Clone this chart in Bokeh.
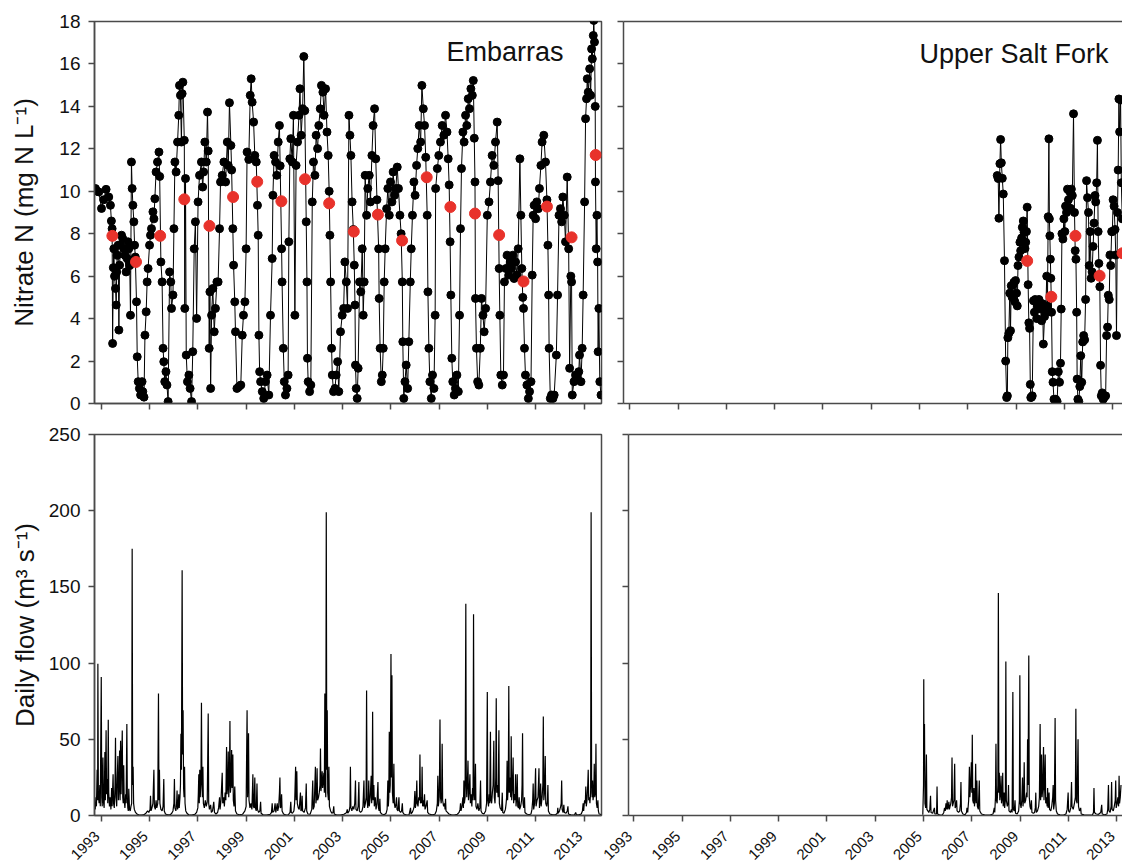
import math
from bokeh.plotting import figure
from bokeh.layouts import column, row
from bokeh.models import Range1d, LinearAxis, FixedTicker, Label
from bokeh.core.properties import value
from bokeh.embed import file_html
from bokeh.resources import INLINE

FONT = "Liberation Sans"
AX = "#4a4a4a"
TXT = "#111111"
RED = "#e8322b"

# ---------------- data ----------------
year_ticks = [1993, 1995, 1997, 1999, 2001, 2003, 2005, 2007, 2009, 2011, 2013]
year_labels = ["1993", "1995", "1997", "1999", "2001", "2003", "2005", "2007", "2009", "2011", "2013"]
no3_ticks = [0, 2, 4, 6, 8, 10, 12, 14, 16, 18]
flow_ticks = [0, 50, 100, 150, 200, 250]

# Embarras nitrate samples (decimal year, mg N/L)
emb_no3 = [
    (1992.76, 10.13), (1992.83, 10.0), (1992.90, 9.97), (1993.01, 9.19), (1993.10, 9.6), (1993.20, 10.09),
    (1993.31, 9.73), (1993.38, 9.34), (1993.42, 8.6), (1993.45, 8.24), (1993.47, 2.83), (1993.50, 6.4),
    (1993.52, 7.29), (1993.55, 6.0), (1993.59, 5.42), (1993.62, 4.64), (1993.64, 6.2), (1993.66, 6.99),
    (1993.70, 7.46), (1993.73, 3.46), (1993.76, 6.52), (1993.80, 7.46), (1993.84, 7.93), (1993.89, 7.77),
    (1993.94, 7.29), (1993.98, 6.99), (1994.03, 6.20), (1994.07, 6.83), (1994.11, 7.62), (1994.14, 7.29),
    (1994.18, 6.5), (1994.21, 4.16), (1994.25, 11.38), (1994.28, 10.13), (1994.31, 9.34), (1994.35, 8.56),
    (1994.38, 7.46), (1994.41, 6.9), (1994.46, 4.79), (1994.49, 2.20), (1994.53, 1.03), (1994.58, 0.71),
    (1994.63, 0.40), (1994.69, 1.03), (1994.72, 0.56), (1994.77, 0.3), (1994.81, 3.22), (1994.86, 4.32),
    (1994.90, 5.73), (1994.94, 6.36), (1995.00, 7.46), (1995.04, 7.93), (1995.08, 8.24), (1995.14, 9.03),
    (1995.18, 8.7), (1995.22, 9.65), (1995.27, 10.91), (1995.33, 11.38), (1995.39, 11.85), (1995.42, 10.7),
    (1995.47, 6.67), (1995.52, 5.73), (1995.56, 2.60), (1995.59, 1.97), (1995.63, 1.03), (1995.68, 1.50),
    (1995.72, 0.87), (1995.77, 0.09), (1995.83, 6.20), (1995.88, 5.73), (1995.91, 4.48), (1995.97, 5.11),
    (1996.01, 8.24), (1996.05, 11.38), (1996.10, 10.91), (1996.16, 12.32), (1996.21, 13.58), (1996.24, 14.99),
    (1996.28, 14.52), (1996.32, 12.32), (1996.35, 14.6), (1996.38, 15.14), (1996.44, 12.4), (1996.46, 4.48),
    (1996.49, 10.60), (1996.52, 2.28), (1996.57, 1.03), (1996.63, 1.34), (1996.68, 0.71), (1996.74, 0.09),
    (1996.79, 2.44), (1996.85, 7.29), (1996.90, 8.56), (1996.95, 4.01), (1997.01, 9.50), (1997.07, 10.75),
    (1997.15, 11.38), (1997.20, 10.2), (1997.24, 10.91), (1997.29, 12.32), (1997.35, 11.38), (1997.40, 13.73),
    (1997.43, 11.9), (1997.47, 2.60), (1997.50, 5.26), (1997.53, 0.71), (1997.57, 4.16), (1997.62, 5.42),
    (1997.68, 3.38), (1997.73, 4.48), (1997.79, 5.73), (1997.84, 5.73), (1997.90, 8.24), (1997.94, 10.44),
    (1998.01, 10.75), (1998.08, 11.38), (1998.15, 10.44), (1998.22, 12.32), (1998.26, 11.22), (1998.31, 14.17),
    (1998.37, 12.16), (1998.40, 11.0), (1998.45, 8.24), (1998.48, 6.52), (1998.53, 4.79), (1998.56, 3.38),
    (1998.62, 0.71), (1998.70, 0.79), (1998.78, 0.87), (1998.84, 3.22), (1998.89, 4.16), (1998.95, 4.79),
    (1999.00, 7.29), (1999.04, 11.85), (1999.11, 11.5), (1999.17, 14.52), (1999.21, 15.30), (1999.25, 14.20),
    (1999.31, 13.26), (1999.36, 11.69), (1999.42, 11.38), (1999.47, 9.34), (1999.50, 7.93), (1999.53, 3.22),
    (1999.56, 1.50), (1999.60, 1.03), (1999.67, 0.56), (1999.73, 0.24), (1999.80, 1.03), (1999.87, 1.34),
    (1999.94, 0.40),
    (2000.01, 4.16), (2000.08, 6.83), (2000.11, 9.81), (2000.16, 11.69), (2000.22, 11.38), (2000.27, 10.75),
    (2000.33, 12.32), (2000.38, 13.10), (2000.41, 11.2), (2000.47, 7.29), (2000.49, 5.73), (2000.54, 2.60),
    (2000.58, 1.03), (2000.63, 0.40), (2000.69, 0.71), (2000.74, 1.34), (2000.77, 7.62), (2000.81, 11.53),
    (2000.85, 12.48), (2000.91, 11.38), (2000.96, 13.58), (2001.02, 4.16), (2001.07, 11.22), (2001.13, 12.32),
    (2001.19, 13.58), (2001.23, 14.83), (2001.28, 12.64), (2001.34, 13.89), (2001.39, 16.35), (2001.43, 13.8),
    (2001.49, 8.56), (2001.52, 5.73), (2001.54, 2.13), (2001.57, 1.03), (2001.63, 0.56), (2001.68, 0.87),
    (2001.74, 9.50), (2001.79, 11.38), (2001.85, 10.75), (2001.90, 12.64), (2001.96, 12.01), (2002.01, 13.10),
    (2002.07, 13.89), (2002.12, 14.99), (2002.18, 14.67), (2002.23, 13.58), (2002.29, 14.83), (2002.35, 12.79),
    (2002.40, 11.69), (2002.44, 10.0), (2002.47, 7.93), (2002.50, 5.73), (2002.54, 2.60), (2002.57, 1.34),
    (2002.62, 0.56), (2002.68, 0.71), (2002.73, 1.34), (2002.79, 1.97), (2002.84, 0.56), (2002.91, 3.38),
    (2002.98, 4.16), (2003.04, 4.48), (2003.09, 6.67), (2003.15, 5.73), (2003.20, 4.48), (2003.26, 13.58),
    (2003.30, 12.64), (2003.34, 11.69), (2003.39, 9.50), (2003.44, 8.2), (2003.48, 6.52), (2003.51, 4.64),
    (2003.53, 1.81), (2003.56, 0.71), (2003.60, 0.24), (2003.64, 1.66), (2003.70, 5.73), (2003.75, 5.26),
    (2003.81, 7.29), (2003.85, 4.16), (2003.89, 5.73), (2003.93, 10.75), (2003.99, 8.87), (2004.04, 10.13),
    (2004.10, 10.75), (2004.15, 9.50), (2004.21, 11.69), (2004.26, 13.10), (2004.32, 13.89), (2004.37, 11.53),
    (2004.42, 9.6), (2004.49, 7.29), (2004.51, 4.95), (2004.55, 2.60), (2004.60, 1.03), (2004.64, 1.34),
    (2004.68, 2.60), (2004.72, 5.73), (2004.76, 7.29), (2004.82, 9.18), (2004.87, 10.13), (2004.93, 8.87),
    (2004.98, 10.44), (2005.04, 9.50), (2005.09, 10.91), (2005.15, 9.81), (2005.20, 10.13), (2005.26, 11.14),
    (2005.31, 10.13), (2005.37, 8.87), (2005.42, 8.0), (2005.47, 5.73), (2005.49, 2.91), (2005.53, 0.24),
    (2005.58, 1.03), (2005.63, 1.81), (2005.69, 0.71), (2005.74, 2.91), (2005.80, 5.73), (2005.84, 7.29),
    (2005.89, 8.87), (2005.95, 10.44), (2006.00, 9.81), (2006.06, 11.22), (2006.11, 12.01), (2006.17, 13.10),
    (2006.23, 12.32), (2006.28, 14.99), (2006.34, 13.89), (2006.39, 13.10), (2006.44, 11.6), (2006.50, 8.87),
    (2006.53, 5.26), (2006.57, 2.60), (2006.61, 1.03), (2006.67, 0.24), (2006.72, 1.34), (2006.78, 0.71),
    (2006.83, 4.16),
    (2006.85, 10.13), (2006.92, 11.07), (2006.98, 11.69), (2007.05, 12.32), (2007.12, 13.10), (2007.19, 12.64),
    (2007.26, 13.58), (2007.32, 12.79), (2007.37, 11.53), (2007.41, 10.3), (2007.45, 7.62), (2007.48, 5.11),
    (2007.52, 2.13), (2007.56, 1.03), (2007.62, 0.40), (2007.67, 0.71), (2007.73, 1.34), (2007.79, 0.56),
    (2007.84, 4.16), (2007.88, 8.24), (2007.92, 11.07), (2007.98, 12.79), (2008.03, 12.32), (2008.09, 13.58),
    (2008.14, 13.10), (2008.20, 14.36), (2008.25, 13.89), (2008.31, 14.83), (2008.37, 14.52), (2008.41, 15.22),
    (2008.45, 12.5), (2008.48, 10.44), (2008.50, 4.95), (2008.54, 2.60), (2008.59, 1.03), (2008.64, 0.87),
    (2008.70, 2.60), (2008.75, 4.95), (2008.81, 4.16), (2008.86, 3.38), (2008.92, 4.48), (2008.99, 8.87),
    (2009.06, 9.50), (2009.12, 10.44), (2009.19, 11.69), (2009.26, 11.22), (2009.33, 12.32), (2009.40, 13.26),
    (2009.44, 10.5), (2009.48, 6.36), (2009.51, 4.16), (2009.55, 1.34), (2009.61, 0.87), (2009.66, 1.34),
    (2009.70, 5.73), (2009.76, 6.36), (2009.81, 6.99), (2009.88, 6.05), (2009.94, 6.67), (2009.99, 6.36),
    (2010.05, 6.99), (2010.10, 5.89), (2010.16, 6.67), (2010.22, 6.05), (2010.27, 7.29), (2010.34, 11.53),
    (2010.38, 8.87), (2010.42, 6.36), (2010.46, 5.0), (2010.49, 4.48), (2010.53, 2.60), (2010.57, 1.34),
    (2010.63, 0.87), (2010.69, 0.24), (2010.74, 0.56), (2010.80, 1.03), (2010.85, 6.05), (2010.89, 8.87),
    (2010.93, 9.34), (2010.99, 8.71), (2011.04, 9.50), (2011.10, 9.18), (2011.15, 10.13), (2011.21, 11.22),
    (2011.26, 12.32), (2011.33, 12.64), (2011.40, 11.38), (2011.46, 9.6), (2011.50, 7.46), (2011.53, 5.11),
    (2011.55, 2.60), (2011.60, 0.24), (2011.65, 0.40), (2011.71, 0.24), (2011.76, 0.40), (2011.85, 2.28),
    (2011.90, 5.11), (2011.96, 8.87), (2012.02, 9.18), (2012.07, 8.56), (2012.12, 9.73), (2012.18, 8.87),
    (2012.23, 7.62), (2012.30, 10.67), (2012.36, 7.29), (2012.40, 1.66), (2012.45, 6.0), (2012.48, 5.73),
    (2012.51, 0.40), (2012.58, 1.03), (2012.65, 1.34), (2012.71, 1.18), (2012.78, 1.50), (2012.81, 2.28),
    (2012.87, 1.03), (2012.92, 2.60), (2012.96, 5.11), (2013.02, 9.50), (2013.06, 13.42), (2013.10, 14.36),
    (2013.13, 15.30), (2013.17, 14.67), (2013.23, 15.77), (2013.27, 14.52), (2013.31, 16.71), (2013.34, 16.24),
    (2013.38, 17.34), (2013.40, 18.05), (2013.43, 17.03), (2013.46, 14.0), (2013.47, 10.44), (2013.50, 7.29),
    (2013.53, 8.87), (2013.56, 6.67), (2013.58, 2.44), (2013.61, 4.48), (2013.65, 1.03), (2013.70, 0.40),
]

# Embarras annual mean nitrate
emb_mean_year = [1993.46, 1994.44, 1995.44, 1996.44, 1997.48, 1998.46, 1999.46, 2000.46, 2001.44, 2002.44, 2003.46,
                 2004.46, 2005.46, 2006.48, 2007.46, 2008.48, 2009.48, 2010.49, 2011.46, 2012.48, 2013.48]
emb_mean_no3 = [7.9, 6.67, 7.9, 9.62, 8.37, 9.73, 10.45, 9.53, 10.57, 9.43, 8.1,
                8.9, 7.68, 10.66, 9.26, 8.95, 7.94, 5.75, 9.28, 7.83, 11.71]

# Upper Salt Fork nitrate samples
usf_no3 = [
    (2008.22, 10.74), (2008.26, 10.6), (2008.29, 8.73), (2008.33, 11.3), (2008.36, 12.44), (2008.39, 11.34),
    (2008.43, 10.61), (2008.47, 9.87), (2008.52, 6.73), (2008.57, 2.0), (2008.61, 0.28), (2008.64, 0.36),
    (2008.66, 3.1), (2008.70, 3.3), (2008.74, 5.2), (2008.77, 3.43), (2008.80, 5.55), (2008.84, 5.0),
    (2008.88, 5.6), (2008.91, 5.71), (2008.95, 4.8), (2008.98, 5.79), (2009.02, 5.2), (2009.05, 4.6),
    (2009.08, 6.5), (2009.12, 6.9), (2009.16, 7.6), (2009.19, 7.2), (2009.23, 7.8), (2009.26, 8.3),
    (2009.30, 8.6), (2009.33, 8.07), (2009.37, 7.3), (2009.40, 7.6), (2009.43, 8.1), (2009.46, 9.25),
    (2009.50, 5.6), (2009.53, 3.8), (2009.56, 3.54), (2009.59, 0.9), (2009.61, 0.28), (2009.64, 0.3),
    (2009.67, 0.36), (2009.72, 4.84), (2009.76, 4.3), (2009.79, 4.9), (2009.82, 4.84), (2009.86, 4.0),
    (2009.90, 4.6), (2009.95, 4.9), (2010.02, 4.45), (2010.06, 3.9), (2010.10, 4.7), (2010.13, 2.8),
    (2010.18, 4.1), (2010.23, 4.3), (2010.27, 6.0), (2010.30, 4.6), (2010.33, 8.8), (2010.36, 12.47),
    (2010.38, 8.7), (2010.40, 7.9), (2010.42, 6.8), (2010.44, 5.9), (2010.47, 4.3), (2010.50, 1.5),
    (2010.53, 1.0), (2010.57, 0.2), (2010.64, 0.2), (2010.70, 0.1), (2010.75, 1.5), (2010.80, 1.0),
    (2010.84, 1.9), (2010.87, 4.45), (2010.90, 8.0), (2010.94, 7.75), (2010.98, 8.7), (2011.02, 8.1),
    (2011.05, 9.3), (2011.09, 9.0), (2011.13, 10.1), (2011.17, 9.6), (2011.21, 10.0), (2011.25, 9.2),
    (2011.29, 10.1), (2011.33, 9.8), (2011.38, 13.65), (2011.42, 9.0), (2011.45, 7.2), (2011.48, 6.8),
    (2011.51, 4.3), (2011.53, 1.15), (2011.56, 0.2), (2011.60, 0.1), (2011.64, 0.8), (2011.68, 2.25),
    (2011.72, 1.0), (2011.76, 2.9), (2011.80, 3.2), (2011.84, 3.0), (2011.88, 4.9), (2011.92, 10.5),
    (2011.96, 9.7), (2012.00, 9.0), (2012.03, 6.5), (2012.07, 8.1), (2012.11, 5.9), (2012.15, 6.2),
    (2012.19, 7.4), (2012.23, 8.5), (2012.27, 9.8), (2012.30, 9.5), (2012.34, 10.4), (2012.37, 12.4),
    (2012.40, 8.1), (2012.43, 6.6), (2012.47, 5.5), (2012.50, 1.8), (2012.53, 0.36), (2012.57, 0.5),
    (2012.61, 0.2), (2012.66, 0.3), (2012.71, 0.36), (2012.75, 3.2), (2012.79, 3.6), (2012.82, 5.1),
    (2012.86, 4.9), (2012.89, 7.0), (2012.92, 6.5), (2012.96, 8.1), (2012.99, 8.1), (2013.02, 9.6),
    (2013.06, 9.3), (2013.10, 8.2), (2013.13, 7.0), (2013.16, 3.2), (2013.20, 9.0), (2013.23, 11.0),
    (2013.26, 14.35), (2013.29, 12.8), (2013.33, 14.3), (2013.36, 10.4), (2013.40, 8.7),
]
usf_mean_year = [2009.46, 2010.46, 2011.46, 2012.46, 2013.41]
usf_mean_no3 = [6.72, 5.03, 7.9, 6.02, 7.08]

# Embarras daily flow (decimal year, m3/s)
emb_flow = [
    (1992.75, 4), (1992.78, 12), (1992.80, 6), (1992.83, 30), (1992.85, 10), (1992.86, 99.6), (1992.88, 14),
    (1992.91, 8), (1992.94, 20), (1992.96, 6), (1993.00, 90.8), (1993.02, 12), (1993.04, 6), (1993.07, 38),
    (1993.09, 9), (1993.12, 5), (1993.15, 41.6), (1993.17, 10), (1993.20, 56), (1993.22, 14), (1993.25, 24),
    (1993.27, 8), (1993.29, 62.8), (1993.31, 15), (1993.34, 6), (1993.37, 12), (1993.40, 4), (1993.43, 18),
    (1993.45, 6), (1993.49, 27), (1993.51, 8), (1993.54, 5), (1993.57, 20), (1993.59, 51), (1993.61, 12),
    (1993.64, 6), (1993.66, 24), (1993.69, 39), (1993.71, 10), (1993.74, 20), (1993.76, 42.7), (1993.78, 10),
    (1993.80, 49), (1993.82, 14), (1993.84, 30), (1993.87, 55.8), (1993.89, 12), (1993.91, 8), (1993.93, 33),
    (1993.95, 10), (1993.98, 5), (1994.01, 14), (1994.03, 8), (1994.06, 60), (1994.08, 12), (1994.10, 5),
    (1994.12, 3), (1994.14, 17.5), (1994.17, 4), (1994.20, 3), (1994.23, 6), (1994.26, 8), (1994.28, 175),
    (1994.30, 20), (1994.32, 32), (1994.34, 8), (1994.37, 4), (1994.42, 2), (1994.48, 1), (1994.55, 0.5),
    (1994.65, 0.3), (1994.75, 0.4), (1994.85, 1.5), (1994.92, 3), (1994.97, 2), (1995.02, 4), (1995.04, 13),
    (1995.06, 3), (1995.10, 5), (1995.14, 8), (1995.18, 30), (1995.20, 6), (1995.24, 4), (1995.27, 10),
    (1995.30, 5), (1995.34, 8), (1995.37, 80), (1995.39, 10), (1995.41, 30), (1995.43, 8), (1995.47, 4),
    (1995.52, 3), (1995.56, 6), (1995.59, 24), (1995.61, 3), (1995.66, 1), (1995.75, 0.5), (1995.85, 0.4),
    (1995.92, 1.5), (1995.97, 3), (1996.01, 8), (1996.03, 24), (1996.05, 5), (1996.09, 3), (1996.12, 8),
    (1996.14, 16.4), (1996.16, 4), (1996.19, 6), (1996.21, 14), (1996.23, 5), (1996.26, 12), (1996.28, 20),
    (1996.30, 53.6), (1996.32, 30), (1996.35, 161), (1996.37, 40), (1996.39, 69), (1996.41, 18), (1996.43, 12),
    (1996.45, 32), (1996.47, 8), (1996.50, 3), (1996.55, 1.5), (1996.62, 0.5), (1996.75, 0.3), (1996.88, 0.8),
    (1996.95, 2), (1997.00, 5), (1997.02, 14), (1997.04, 27), (1997.06, 8), (1997.08, 30), (1997.10, 12),
    (1997.13, 25), (1997.15, 74), (1997.17, 20), (1997.19, 12), (1997.21, 32), (1997.23, 8), (1997.27, 5),
    (1997.31, 10), (1997.35, 6), (1997.39, 9), (1997.43, 67), (1997.45, 8), (1997.48, 4), (1997.53, 7),
    (1997.56, 2), (1997.61, 3), (1997.66, 9), (1997.69, 2), (1997.75, 1), (1997.82, 2), (1997.86, 5),
    (1997.90, 12), (1997.92, 4), (1997.96, 10), (1998.01, 28), (1998.03, 8), (1998.07, 12), (1998.10, 6),
    (1998.13, 15), (1998.16, 10), (1998.19, 45), (1998.21, 14), (1998.24, 20), (1998.26, 42), (1998.28, 12),
    (1998.31, 25), (1998.33, 62), (1998.35, 15), (1998.38, 22), (1998.40, 43), (1998.42, 18), (1998.45, 40),
    (1998.47, 10), (1998.50, 6), (1998.53, 19), (1998.56, 3), (1998.62, 1), (1998.72, 0.5), (1998.85, 0.8),
    (1998.95, 3), (1999.00, 6), (1999.04, 69), (1999.06, 12), (1999.08, 20), (1999.10, 54), (1999.12, 10),
    (1999.16, 5), (1999.20, 8), (1999.24, 4), (1999.28, 27), (1999.30, 6), (1999.33, 5), (1999.36, 25),
    (1999.38, 5), (1999.42, 3), (1999.45, 21), (1999.47, 4), (1999.52, 2), (1999.57, 3), (1999.60, 9),
    (1999.62, 1.5), (1999.70, 0.5), (1999.85, 0.3), (2000.00, 0.8), (2000.05, 2), (2000.08, 8), (2000.10, 2),
    (2000.16, 3), (2000.20, 8), (2000.23, 2), (2000.29, 8), (2000.31, 3), (2000.35, 6), (2000.38, 15),
    (2000.40, 25), (2000.42, 5), (2000.45, 6), (2000.47, 14), (2000.49, 3), (2000.55, 1), (2000.65, 0.3),
    (2000.75, 0.5), (2000.82, 2), (2000.85, 9), (2000.87, 2), (2000.92, 1.5), (2000.98, 3), (2001.01, 8),
    (2001.05, 32), (2001.07, 10), (2001.10, 29), (2001.12, 8), (2001.16, 5), (2001.20, 4), (2001.25, 15),
    (2001.27, 3), (2001.30, 4), (2001.32, 13), (2001.34, 3), (2001.40, 2), (2001.46, 5), (2001.49, 21),
    (2001.51, 3), (2001.56, 1), (2001.65, 0.8), (2001.72, 4), (2001.76, 23), (2001.78, 4), (2001.82, 6),
    (2001.87, 32), (2001.89, 8), (2001.92, 12), (2001.94, 31), (2001.96, 10), (2002.00, 12), (2002.03, 15),
    (2002.06, 20), (2002.08, 44), (2002.10, 16), (2002.13, 22), (2002.15, 29), (2002.17, 18), (2002.20, 24),
    (2002.22, 28), (2002.24, 15), (2002.26, 80), (2002.28, 20), (2002.30, 12), (2002.32, 199), (2002.34, 30),
    (2002.36, 69), (2002.38, 15), (2002.41, 10), (2002.43, 32), (2002.45, 6), (2002.50, 3), (2002.55, 1.5),
    (2002.60, 2), (2002.63, 6), (2002.65, 1), (2002.75, 0.3), (2002.90, 0.3), (2003.05, 0.8), (2003.12, 1.5),
    (2003.16, 2), (2003.19, 4), (2003.21, 1.5), (2003.27, 3), (2003.30, 6), (2003.32, 32), (2003.34, 5),
    (2003.38, 3), (2003.42, 6), (2003.46, 4), (2003.50, 8), (2003.53, 23), (2003.55, 4), (2003.60, 3),
    (2003.64, 6), (2003.67, 22), (2003.69, 3), (2003.74, 2), (2003.80, 3), (2003.84, 6), (2003.88, 23),
    (2003.90, 5), (2003.94, 8), (2003.97, 12), (2003.99, 82), (2004.01, 10), (2004.04, 5), (2004.06, 10),
    (2004.08, 23), (2004.10, 6), (2004.14, 12), (2004.18, 26), (2004.20, 8), (2004.22, 15), (2004.24, 68),
    (2004.26, 10), (2004.29, 20), (2004.31, 6), (2004.35, 12), (2004.38, 4), (2004.42, 8), (2004.46, 22),
    (2004.48, 5), (2004.51, 3), (2004.54, 11), (2004.56, 2), (2004.62, 1), (2004.72, 0.5), (2004.80, 1.5),
    (2004.84, 4), (2004.87, 23), (2004.89, 6), (2004.91, 12), (2004.93, 55), (2004.95, 15), (2004.97, 20),
    (2005.00, 106), (2005.02, 25), (2005.04, 92), (2005.06, 15), (2005.09, 8), (2005.12, 34), (2005.14, 8),
    (2005.17, 5), (2005.20, 7), (2005.23, 12), (2005.25, 4), (2005.29, 3), (2005.33, 12), (2005.35, 3),
    (2005.40, 2), (2005.44, 3), (2005.47, 8), (2005.49, 2), (2005.55, 0.8), (2005.65, 0.3), (2005.75, 0.5),
    (2005.81, 5), (2005.83, 1), (2005.88, 2), (2005.93, 4), (2005.96, 6), (2005.99, 16), (2006.01, 5),
    (2006.04, 8), (2006.07, 23), (2006.09, 8), (2006.12, 6), (2006.15, 12), (2006.18, 10), (2006.20, 40),
    (2006.22, 8), (2006.25, 12), (2006.27, 8), (2006.29, 32), (2006.31, 6), (2006.34, 10), (2006.36, 6),
    (2006.39, 14), (2006.41, 4), (2006.45, 6), (2006.50, 10), (2006.52, 2), (2006.58, 1), (2006.70, 0.4),
    (2006.82, 0.8), (2006.88, 3), (2006.92, 8), (2006.94, 26), (2006.96, 6), (2006.99, 10), (2007.01, 25),
    (2007.03, 63), (2007.05, 12), (2007.08, 8), (2007.10, 15), (2007.12, 47), (2007.14, 10), (2007.18, 6),
    (2007.22, 8), (2007.24, 4), (2007.26, 11), (2007.28, 3), (2007.34, 2), (2007.40, 1), (2007.50, 0.5),
    (2007.62, 0.3), (2007.75, 0.8), (2007.82, 2), (2007.86, 4), (2007.88, 8), (2007.90, 3), (2007.94, 6),
    (2007.98, 12), (2008.00, 5), (2008.02, 23), (2008.04, 8), (2008.07, 12), (2008.10, 139), (2008.12, 20),
    (2008.14, 12), (2008.17, 25), (2008.19, 36), (2008.21, 10), (2008.24, 16), (2008.27, 27), (2008.29, 8),
    (2008.32, 14), (2008.35, 6), (2008.38, 18), (2008.40, 10), (2008.42, 132), (2008.44, 15), (2008.47, 10),
    (2008.50, 34), (2008.52, 6), (2008.56, 4), (2008.60, 8), (2008.64, 3), (2008.68, 5), (2008.71, 23),
    (2008.73, 3), (2008.78, 1.5), (2008.85, 1), (2008.92, 3), (2008.96, 8), (2008.99, 81), (2009.01, 10),
    (2009.04, 6), (2009.07, 14), (2009.09, 8), (2009.12, 55), (2009.14, 10), (2009.17, 8), (2009.20, 15),
    (2009.23, 20), (2009.26, 49), (2009.28, 12), (2009.31, 8), (2009.34, 25), (2009.36, 77), (2009.38, 15),
    (2009.41, 20), (2009.44, 12), (2009.47, 56), (2009.49, 8), (2009.52, 5), (2009.56, 4), (2009.58, 3),
    (2009.61, 15), (2009.63, 2), (2009.68, 1.5), (2009.74, 4), (2009.77, 8), (2009.79, 12), (2009.81, 36),
    (2009.83, 10), (2009.86, 20), (2009.88, 85), (2009.90, 15), (2009.93, 25), (2009.96, 12), (2009.98, 52),
    (2010.00, 10), (2010.03, 18), (2010.06, 38), (2010.08, 8), (2010.11, 14), (2010.14, 10), (2010.16, 27),
    (2010.18, 6), (2010.21, 12), (2010.23, 27), (2010.25, 6), (2010.28, 5), (2010.31, 12), (2010.33, 4),
    (2010.37, 6), (2010.41, 10), (2010.43, 20), (2010.45, 54), (2010.47, 8), (2010.50, 5), (2010.53, 12),
    (2010.55, 2), (2010.62, 1), (2010.72, 0.5), (2010.80, 1), (2010.84, 4), (2010.87, 10), (2010.89, 21),
    (2010.91, 4), (2010.95, 8), (2010.99, 31), (2011.01, 6), (2011.05, 10), (2011.09, 12), (2011.13, 31),
    (2011.15, 5), (2011.18, 10), (2011.20, 21), (2011.22, 6), (2011.26, 12), (2011.29, 20), (2011.31, 65),
    (2011.33, 10), (2011.36, 15), (2011.39, 39), (2011.41, 8), (2011.45, 6), (2011.48, 10), (2011.50, 20),
    (2011.52, 3), (2011.58, 1), (2011.70, 0.4), (2011.82, 0.5), (2011.89, 1.5), (2011.91, 5), (2011.93, 1.5),
    (2011.98, 3), (2012.03, 6), (2012.05, 8), (2012.07, 23), (2012.09, 4), (2012.13, 2), (2012.16, 7),
    (2012.18, 2), (2012.25, 1.5), (2012.30, 3), (2012.33, 6), (2012.35, 1), (2012.45, 0.4), (2012.60, 0.3),
    (2012.65, 2), (2012.68, 0.5), (2012.78, 0.4), (2012.88, 1), (2012.93, 3), (2012.96, 8), (2012.98, 3),
    (2013.02, 10), (2013.05, 8), (2013.07, 19), (2013.09, 6), (2013.12, 10), (2013.15, 20), (2013.17, 30),
    (2013.19, 10), (2013.22, 12), (2013.24, 8), (2013.27, 15), (2013.29, 199), (2013.31, 25), (2013.33, 12),
    (2013.35, 23), (2013.37, 10), (2013.40, 15), (2013.42, 34), (2013.44, 12), (2013.47, 15), (2013.49, 47),
    (2013.51, 8), (2013.54, 5), (2013.57, 10), (2013.59, 3), (2013.62, 1), (2013.68, 0.8), (2013.72, 0.5),
]

# Upper Salt Fork daily flow
usf_flow = [
    (2004.97, 0.5), (2005.00, 20), (2005.01, 89.4), (2005.02, 30), (2005.04, 60), (2005.06, 8), (2005.09, 5),
    (2005.12, 40), (2005.14, 4), (2005.18, 3), (2005.22, 2), (2005.26, 4), (2005.29, 13), (2005.31, 2),
    (2005.38, 1.5), (2005.45, 5), (2005.47, 1), (2005.54, 1), (2005.56, 19), (2005.58, 1), (2005.66, 0.5),
    (2005.78, 0.3), (2005.84, 2), (2005.87, 5), (2005.90, 3), (2005.93, 8), (2005.96, 4), (2005.98, 10),
    (2006.00, 4), (2006.03, 6), (2006.05, 9), (2006.07, 4), (2006.10, 6), (2006.13, 8), (2006.16, 12),
    (2006.18, 38), (2006.20, 6), (2006.23, 8), (2006.26, 10), (2006.29, 34), (2006.31, 5), (2006.34, 6),
    (2006.37, 10), (2006.39, 3), (2006.45, 2), (2006.50, 3), (2006.53, 8), (2006.55, 22), (2006.57, 3),
    (2006.63, 1), (2006.72, 0.5), (2006.78, 2), (2006.80, 5), (2006.83, 2), (2006.87, 10), (2006.90, 32),
    (2006.92, 12), (2006.95, 20), (2006.98, 35), (2007.00, 15), (2007.02, 53), (2007.04, 10), (2007.07, 8),
    (2007.09, 18), (2007.11, 6), (2007.14, 12), (2007.16, 34), (2007.18, 8), (2007.21, 23), (2007.23, 6),
    (2007.27, 4), (2007.31, 23), (2007.33, 3), (2007.40, 1), (2007.55, 0.3), (2007.75, 0.3), (2007.88, 1),
    (2007.93, 5), (2007.95, 2), (2007.98, 12), (2008.00, 47), (2008.02, 10), (2008.05, 8), (2008.08, 20),
    (2008.10, 146), (2008.12, 15), (2008.14, 28), (2008.16, 10), (2008.19, 15), (2008.21, 26), (2008.23, 8),
    (2008.26, 12), (2008.28, 28), (2008.30, 6), (2008.32, 10), (2008.34, 15), (2008.36, 5), (2008.39, 10),
    (2008.41, 101), (2008.43, 10), (2008.47, 6), (2008.50, 8), (2008.52, 20), (2008.54, 3), (2008.60, 2),
    (2008.64, 4), (2008.67, 2), (2008.70, 81), (2008.72, 4), (2008.76, 3), (2008.79, 10), (2008.81, 1.5),
    (2008.88, 1), (2008.94, 3), (2008.97, 10), (2008.99, 92), (2009.01, 8), (2009.04, 5), (2009.07, 10),
    (2009.10, 25), (2009.12, 6), (2009.15, 12), (2009.17, 35), (2009.19, 8), (2009.23, 10), (2009.27, 15),
    (2009.29, 12), (2009.31, 50), (2009.33, 20), (2009.36, 105), (2009.38, 12), (2009.41, 6), (2009.44, 4),
    (2009.47, 10), (2009.49, 2), (2009.55, 1.5), (2009.60, 2), (2009.63, 5), (2009.65, 15), (2009.67, 2),
    (2009.72, 3), (2009.77, 6), (2009.80, 12), (2009.83, 60), (2009.85, 10), (2009.87, 20), (2009.89, 40),
    (2009.91, 12), (2009.94, 18), (2009.97, 45), (2009.99, 10), (2010.02, 25), (2010.04, 40), (2010.06, 8),
    (2010.09, 12), (2010.12, 6), (2010.14, 18), (2010.16, 5), (2010.18, 8), (2010.20, 15), (2010.22, 4),
    (2010.27, 3), (2010.31, 6), (2010.35, 12), (2010.37, 20), (2010.39, 4), (2010.42, 8), (2010.45, 64),
    (2010.47, 10), (2010.50, 3), (2010.55, 1), (2010.65, 0.4), (2010.80, 0.3), (2010.90, 1), (2010.95, 4),
    (2010.99, 15), (2011.01, 3), (2011.05, 2), (2011.10, 5), (2011.13, 22), (2011.15, 6), (2011.20, 4),
    (2011.25, 8), (2011.29, 12), (2011.31, 70), (2011.33, 10), (2011.36, 8), (2011.40, 50), (2011.42, 6),
    (2011.46, 3), (2011.51, 5), (2011.53, 1), (2011.65, 0.4), (2011.85, 0.3), (2012.00, 0.5), (2012.04, 2),
    (2012.06, 18), (2012.08, 2), (2012.15, 1), (2012.25, 0.8), (2012.34, 2), (2012.38, 7), (2012.40, 1),
    (2012.50, 0.5), (2012.60, 1), (2012.63, 4), (2012.66, 20), (2012.68, 3), (2012.73, 2), (2012.77, 6),
    (2012.79, 22), (2012.81, 4), (2012.86, 3), (2012.90, 6), (2012.94, 10), (2012.96, 23), (2012.98, 5),
    (2013.02, 8), (2013.05, 12), (2013.08, 6), (2013.10, 26), (2013.12, 8), (2013.15, 12), (2013.18, 20),
]

# ---------------- layout constants (pixels) ----------------
LEFT_W, RIGHT_W = 612, 510
TOP_H, BOT_H = 420, 407
STRIP_H = 863 - TOP_H - BOT_H
L_BL, L_BR = 94, 11          # left panels' borders
TR_BL, BR_BL = 11, 16        # right panels' left borders
TOP_BT, TOP_BB = 21, 17
BOT_BT = 14
BOT_BB = BOT_H - BOT_BT - 381

L_X = (1992.72, 2013.72)
TR_X0, BR_X0 = 1992.74, 1992.78
SCALE = (LEFT_W - L_BL - L_BR) / (L_X[1] - L_X[0])     # px per year, shared by all panels
LABEL_DX, LABEL_DY = -16, 30                            # year-label centre relative to its tick / axis
LABEL_SIZE = "15px"


def xy(pairs):
    pairs = sorted(pairs)
    return [a for a, _ in pairs], [b for _, b in pairs]


def make_fig(width, height, xr, yr, bl, br, bt, bb, outline):
    p = figure(width=width, height=height, x_range=Range1d(*xr), y_range=Range1d(*yr),
               output_backend="svg", toolbar_location=None,
               min_border_left=bl, min_border_right=br, min_border_top=bt, min_border_bottom=bb)
    p.grid.visible = False
    p.outline_line_color = AX if outline else None
    p.outline_line_width = 1.5
    p.background_fill_color = "white"
    p.border_fill_color = "white"
    return p


def style_axis(ax, ticks, labels_on, font_size="19px", standoff=8):
    ax.ticker = FixedTicker(ticks=ticks)
    ax.axis_line_color = AX
    ax.axis_line_width = 1.5
    ax.major_tick_line_color = AX
    ax.major_tick_line_width = 1.5
    ax.major_tick_out = 6
    ax.major_tick_in = 0
    ax.minor_tick_line_color = None
    ax.major_label_text_font = FONT
    if labels_on:
        ax.major_label_text_color = TXT
        ax.major_label_text_font_size = font_size
        ax.major_label_standoff = standoff
    else:
        ax.major_label_text_color = None
        ax.major_label_text_font_size = "1px"
        ax.major_label_standoff = 0


def add_top_border(p):
    ax = LinearAxis(ticker=FixedTicker(ticks=[]))
    ax.axis_line_color = AX
    ax.axis_line_width = 1.5
    ax.major_tick_line_color = None
    ax.minor_tick_line_color = None
    ax.major_label_text_color = None
    ax.major_label_text_font_size = "1px"
    ax.major_label_standoff = 0
    ax.major_tick_out = 0
    p.add_layout(ax, "above")


def set_ylabel(p, text, standoff):
    p.yaxis.axis_label = text
    p.yaxis.axis_label_text_font = FONT
    p.yaxis.axis_label_text_font_size = "26px"
    p.yaxis.axis_label_text_font_style = "normal"
    p.yaxis.axis_label_text_color = TXT
    p.yaxis.axis_label_standoff = standoff


def nitrate_panel(p, samples, my, mv):
    x, y = xy(samples)
    p.line(x, y, line_color="black", line_width=1)
    p.scatter(x, y, marker="circle", size=8, fill_color="black", line_color="black")
    p.scatter(my, mv, marker="circle", size=11, fill_color=RED, line_color=RED)


# ---------------- figures ----------------
tr_x1 = TR_X0 + (RIGHT_W - TR_BL) / SCALE
br_x1 = BR_X0 + (RIGHT_W - BR_BL) / SCALE

# Top-left: Embarras nitrate
p1 = make_fig(LEFT_W, TOP_H, L_X, (0, 18), L_BL, L_BR, TOP_BT, TOP_BB, True)
style_axis(p1.xaxis[0], year_ticks, False)
style_axis(p1.yaxis[0], no3_ticks, True)
set_ylabel(p1, "Nitrate N (mg N L\u207b\u00b9)", 17)
nitrate_panel(p1, emb_no3, emb_mean_year, emb_mean_no3)
p1.add_layout(Label(x=2012.15, y=16.56, text="Embarras", text_align="right", text_baseline="alphabetic",
                    text_font=FONT, text_font_size="27px", text_color=TXT))

# Top-right: Upper Salt Fork nitrate
p2 = make_fig(RIGHT_W, TOP_H, (TR_X0, tr_x1), (0, 18), TR_BL, 0, TOP_BT, TOP_BB, False)
style_axis(p2.xaxis[0], year_ticks, False)
style_axis(p2.yaxis[0], no3_ticks, False)
add_top_border(p2)
nitrate_panel(p2, usf_no3, usf_mean_year, usf_mean_no3)
p2.add_layout(Label(x=2012.83, y=16.45, text="Upper Salt Fork", text_align="right", text_baseline="alphabetic",
                    text_font=FONT, text_font_size="27px", text_color=TXT))

# Bottom-left: Embarras flow
p3 = make_fig(LEFT_W, BOT_H, L_X, (0, 250), L_BL, L_BR, BOT_BT, BOT_BB, True)
style_axis(p3.xaxis[0], year_ticks, False)
style_axis(p3.yaxis[0], flow_ticks, True)
set_ylabel(p3, "Daily flow (m\u00b3 s\u207b\u00b9)", 6)
fx, fy = xy(emb_flow)
p3.line(fx, fy, line_color="black", line_width=1.2)

# Bottom-right: Upper Salt Fork flow
p4 = make_fig(RIGHT_W, BOT_H, (BR_X0, br_x1), (0, 250), BR_BL, 0, BOT_BT, BOT_BB, False)
style_axis(p4.xaxis[0], year_ticks, False)
style_axis(p4.yaxis[0], flow_ticks, False)
add_top_border(p4)
ux, uy = xy(usf_flow)
p4.line(ux, uy, line_color="black", line_width=1.2)

# Strip under both flow panels carrying the rotated year labels.
# Its x scale equals the panels' scale; the right panel's ticks are shifted by its page offset.
strip_x0 = L_X[0] - L_BL / SCALE
strip = figure(width=LEFT_W + RIGHT_W, height=STRIP_H,
               x_range=Range1d(strip_x0, strip_x0 + (LEFT_W + RIGHT_W) / SCALE),
               y_range=Range1d(-(BOT_BB + STRIP_H), -BOT_BB),
               output_backend="svg", toolbar_location=None, min_border=0,
               x_axis_type=None, y_axis_type=None)
strip.grid.visible = False
strip.outline_line_color = None
strip.background_fill_color = "white"
strip.border_fill_color = "white"
right_shift = (LEFT_W + BR_BL - L_BL) / SCALE - (BR_X0 - L_X[0])
label_x = year_ticks + [t + right_shift for t in year_ticks]
label_txt = year_labels + year_labels
strip.text(x=label_x, y=-LABEL_DY, text=label_txt, angle=math.pi / 4,
           text_align="center", text_baseline="middle", x_offset=LABEL_DX,
           text_font=value(FONT), text_font_size=value(LABEL_SIZE), text_color=TXT)

layout = column(row(p1, p2), row(p3, p4), strip)

with open("out.html", "w") as f:
    f.write(file_html(layout, INLINE, title="Nitrate and flow"))
